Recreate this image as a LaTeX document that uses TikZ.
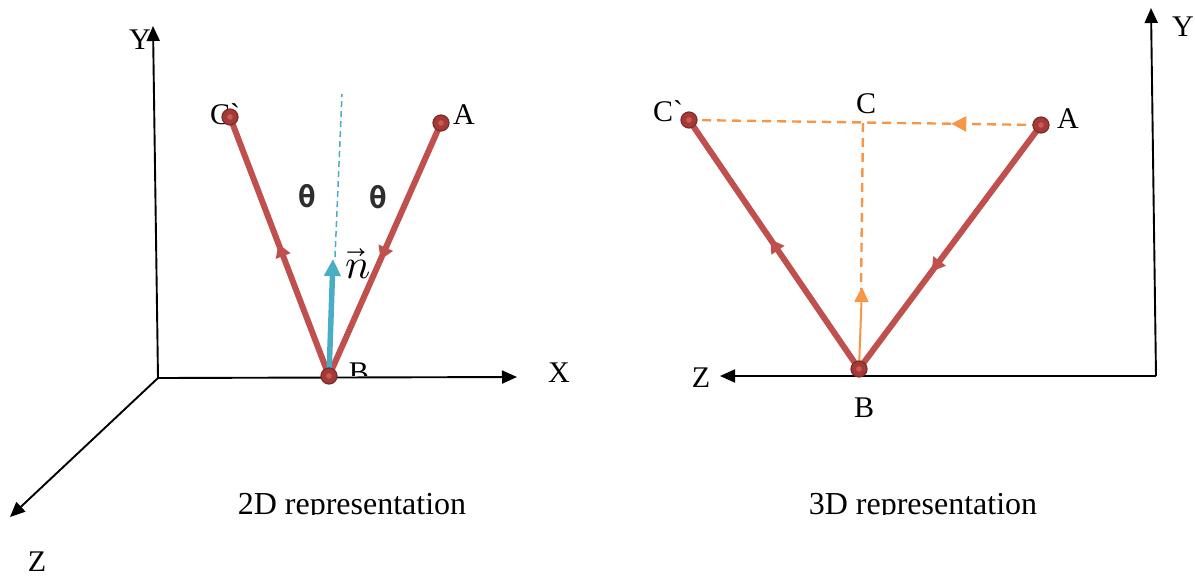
\documentclass[tikz,border=0pt]{standalone}
\usepackage{fontspec}
\usepackage{unicode-math}
\setmainfont{Liberation Serif}
\setmathfont{Latin Modern Math}
\newfontfamily\rawserif{Liberation Serif}[Ligatures=TeXOff]
\newfontfamily\thetafont{DejaVu Sans Mono}[BoldFont={DejaVu Sans Mono Bold}]
\usetikzlibrary{arrows.meta,decorations.markings}
\definecolor{redline}{HTML}{C0504D}
\definecolor{dotred}{HTML}{A23B38}
\definecolor{dotdark}{HTML}{7E2A28}
\definecolor{dotin}{HTML}{CB5A56}
\definecolor{nblue}{HTML}{4BACC6}
\definecolor{orng}{HTML}{F79646}
\pgfdeclarelayer{bg}
\pgfsetlayers{bg,main}
\newcommand{\cgrv}{{\rawserif C\symbol{96}}}
\tikzset{
  lbl/.style={font=\fontsize{30}{34}\selectfont, inner sep=0pt},
  captxt/.style={font=\fontsize{32}{36}\selectfont, inner sep=0pt, anchor=base},
  thlbl/.style={font=\fontsize{30}{34}\selectfont\thetafont\bfseries, text=black!82, inner sep=0pt},
  axis/.style={line width=1.9pt, -{Triangle[length=15pt,width=13pt]}},
  dotnode/.style={circle, fill=dotred, draw=dotdark, line width=1.2pt, minimum size=16pt, inner sep=0pt,
     path picture={\fill[dotin] (path picture bounding box.center) circle (2.8pt);}},
  redseg/.style={draw=redline, line width=6pt, postaction={decorate},
     decoration={markings, mark=at position #1 with {\arrow{Triangle[length=13pt,width=15pt]}}}},
  bluearr/.style={draw=nblue, line width=5.5pt, -{Triangle[length=17pt,width=16pt]}},
  bluedash/.style={draw=nblue, line width=1.5pt, dash pattern=on 6pt off 4pt},
  orngdash/.style={draw=orng, line width=2.4pt, dash pattern=on 9pt off 6pt},
  orngarr/.style={draw=orng, line width=2pt, -{Triangle[length=15pt,width=14pt]}},
}
\begin{document}
\begin{tikzpicture}[x=1pt,y=-1pt]
\useasboundingbox (0,0) rectangle (1195,579);
% ---------- left panel ----------
\coordinate (O1) at (158,378);
\coordinate (Y1) at (153,26);
\coordinate (X1) at (517,377);
\coordinate (Z1) at (10,517);
\draw[axis] (O1) -- (Y1);
\draw[axis] (O1) -- (X1);
\draw[axis] (O1) -- (Z1);
\node[lbl] (Y1l) at (140,40) {Y};
\node[lbl] (X1l) at (559,373) {X};
\node[lbl] (Z1l) at (37,562) {Z};

\node[lbl] (Cp1l) at (225,114) {\cgrv};
\node[lbl] (A1l) at (464,115) {A};
\begin{scope}
\clip (340,340) rectangle (385,375);
\node[lbl, anchor=base] (B1l) at (359,382) {B};
\end{scope}

\node[dotnode] (Cp1) at (230,117) {};
\node[dotnode] (A1) at (441,123) {};
\node[dotnode] (B1) at (329,376) {};
\coordinate (n1) at (333,259);
\coordinate (n0) at (335,257);
\coordinate (ntop) at (342,94);
\begin{pgfonlayer}{bg}
\draw[redseg=0.51] (B1.center) -- (Cp1.center);
\draw[redseg=0.54] (A1.center) -- (B1.center);
\draw[bluedash] (n0) -- (ntop);
\draw[bluearr] (B1.center) -- (n1);
\end{pgfonlayer}
\node[thlbl] (th1) at (307,196) {θ};
\node[thlbl] (th2) at (378,197) {θ};
\node[font=\fontsize{42}{46}\selectfont, inner sep=0pt] (nl) at (358,264) {$\vec{n}$};

\begin{scope}
\clip (200,460) rectangle (520,514);
\node[captxt] (cap1) at (352,514) {2D representation};
\end{scope}

% ---------- right panel ----------
\coordinate (O2) at (1156,376);
\coordinate (Y2) at (1151,8);
\coordinate (Z2) at (720,376);
\draw[axis] (O2) -- (Y2);
\draw[axis] (O2) -- (Z2);
\node[lbl] (Y2l) at (1183,27) {Y};
\node[lbl] (Z2l) at (701,378) {Z};

\node[dotnode] (Cp2) at (689,120) {};
\node[dotnode] (A2) at (1041,125) {};
\node[dotnode] (B2) at (859,369) {};
\coordinate (Cm) at (863,123);
\coordinate (Cb) at (861,290);
\coordinate (ot) at (862,287);
\begin{pgfonlayer}{bg}
\draw[orngdash, postaction={decorate}, decoration={markings, mark=at position 0.255 with {\arrow[solid]{Triangle[length=15pt,width=15pt]}}}] (A2.center) -- (Cp2.center);
\draw[orngdash] (Cm) -- (Cb);
\draw[redseg=0.52] (B2.center) -- (Cp2.center);
\draw[redseg=0.6] (A2.center) -- (B2.center);
\draw[orngarr] (B2.center) -- (ot);
\end{pgfonlayer}
\node[lbl] (Cp2l) at (668,111) {\cgrv};
\node[lbl] (C2l) at (866,104) {C};
\node[lbl] (A2l) at (1068,119) {A};
\node[lbl] (B2l) at (864,408) {B};

\begin{scope}
\clip (780,460) rectangle (1080,514);
\node[captxt] (cap2) at (923,514) {3D representation};
\end{scope}
\end{tikzpicture}
\end{document}
